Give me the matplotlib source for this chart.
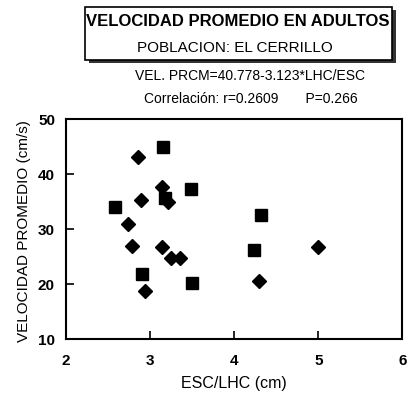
import matplotlib
matplotlib.use('Agg')
import matplotlib.pyplot as plt
from matplotlib.patches import Rectangle

plt.rcParams['font.family'] = ['Liberation Sans', 'DejaVu Sans']

# data
sq_x = [3.15, 3.49, 2.58, 3.18, 4.32, 4.24, 2.90, 3.50]
sq_y = [44.9, 37.3, 34.1, 35.7, 32.6, 26.2, 21.8, 20.3]
dm_x = [2.86, 3.14, 2.89, 3.21, 2.74, 2.78, 3.14, 3.25, 3.35, 2.94, 4.29, 5.00]
dm_y = [43.1, 37.6, 35.3, 35.0, 30.9, 27.0, 26.8, 24.7, 24.7, 18.8, 20.6, 26.8]
xticks = [2, 3, 4, 5, 6]
yticks = [10, 20, 30, 40, 50]

fig = plt.figure(figsize=(4.08, 3.99), dpi=100)
ax = fig.add_axes([0.162, 0.150, 0.824, 0.551])

ax.plot(dm_x, dm_y, 'D', color='black', markersize=7, linestyle='none')
ax.plot(sq_x, sq_y, 's', color='black', markersize=8, linestyle='none')

ax.set_xlim(2, 6)
ax.set_ylim(10, 50)
ax.set_xticks(xticks)
ax.set_yticks(yticks)
ax.tick_params(direction='in', length=6, width=1.2, labelsize=11)
ax.tick_params(axis='x', pad=11)
ax.tick_params(axis='y', pad=8)
for lab in ax.get_xticklabels() + ax.get_yticklabels():
    lab.set_fontweight('bold')
for s in ax.spines.values():
    s.set_linewidth(1.5)

ax.set_xlabel('ESC/LHC (cm)', fontsize=11.5)
ax.set_ylabel('VELOCIDAD PROMEDIO (cm/s)', fontsize=11)
ax.xaxis.set_label_coords(0.498, -0.167)
ax.yaxis.set_label_coords(-0.105, 0.49)

# title box with shadow
fig.patches.append(Rectangle((89/408, 1-63/399), 307/408, 53/399, transform=fig.transFigure,
                             facecolor='#333333', edgecolor='none', zorder=1))
fig.patches.append(Rectangle((85/408, 1-60/399), 307/408, 53/399, transform=fig.transFigure,
                             facecolor='white', edgecolor='black', linewidth=1.2, zorder=2))
fig.text(238/408, 1-22/399, 'VELOCIDAD PROMEDIO EN ADULTOS', ha='center', va='center',
         fontsize=12, fontweight='bold', zorder=3)
fig.text(235/408, 1-48/399, 'POBLACION: EL CERRILLO', ha='center', va='center',
         fontsize=11, zorder=3)
fig.text(250/408, 1-76/399, 'VEL. PRCM=40.778-3.123*LHC/ESC', ha='center', va='center',
         fontsize=10)
fig.text(251/408, 1-99/399, 'Correlación: r=0.2609       P=0.266', ha='center', va='center',
         fontsize=10)

fig.savefig('out.png', dpi=100)
